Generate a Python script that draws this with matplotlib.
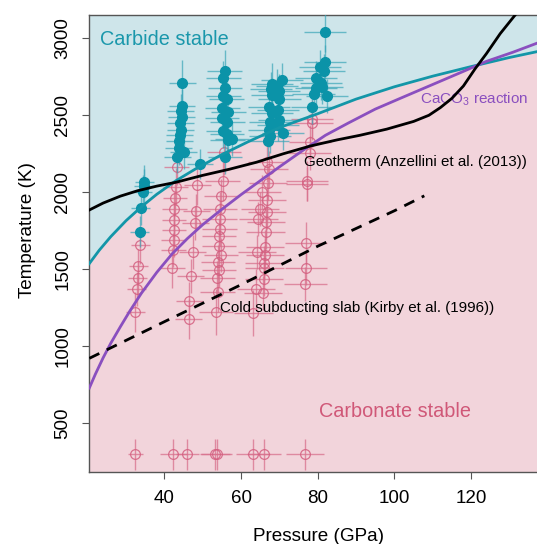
import matplotlib.pyplot as plt
import numpy as np

plt.rcParams['font.family'] = ['Liberation Sans', 'DejaVu Sans']
plt.rcParams['mathtext.default'] = 'regular'

# carbide (filled) measurements: pressure, temperature, errors
carbide_P = [34.8, 34.6, 34.3, 33.8, 33.5,
             44.7, 44.6, 44.2, 44.5, 44.1, 44.3, 44.0, 43.9, 43.7, 45.0, 43.4, 49.3,
             55.7, 55.4, 55.8, 55.4, 56.2, 55.1, 56.7, 55.0, 56.4, 55.4, 56.3, 56.5, 57.6, 55.8,
             68.0, 70.6, 69.3, 67.7, 69.8, 68.0, 70.0, 67.3, 69.6, 68.0, 70.0, 67.6, 69.6, 67.2, 71.0, 67.6, 67.0,
             81.9, 82.0, 80.6, 81.6, 79.6, 80.8, 79.6, 81.2, 78.9, 82.4, 78.5]
carbide_T = [2070, 2040, 2000, 1895, 1745,
             2708, 2560, 2525, 2490, 2450, 2405, 2370, 2330, 2290, 2262, 2232, 2184,
             2785, 2740, 2680, 2625, 2605, 2545, 2523, 2480, 2458, 2400, 2380, 2340, 2345, 2226,
             2700, 2730, 2690, 2670, 2660, 2630, 2605, 2555, 2535, 2512, 2470, 2455, 2440, 2405, 2383, 2365, 2335,
             3043, 2848, 2816, 2790, 2745, 2708, 2680, 2686, 2640, 2625, 2552]
carbide_dP = [2.5, 2.5, 2.5, 2.5, 2.5,
              3.5, 3.5, 3.5, 3.5, 3.5, 3.5, 3.5, 3.5, 3.5, 3.5, 3.5, 3.5,
              4.5, 4.5, 4.5, 4.5, 4.5, 4.5, 4.5, 4.5, 4.5, 4.5, 4.5, 4.5, 4.5, 4.5,
              5.5, 5.5, 5.5, 5.5, 5.5, 5.5, 5.5, 5.5, 5.5, 5.5, 5.5, 5.5, 5.5, 5.5, 5.5, 5.5, 5.5,
              5.5, 5.5, 5.5, 5.5, 5.5, 5.5, 5.5, 5.5, 5.5, 5.5, 5.5]
carbide_dT = [110, 110, 110, 110, 100,
              150, 110, 110, 110, 110, 110, 110, 110, 110, 110, 110, 100,
              140, 110, 110, 110, 110, 110, 110, 110, 110, 110, 110, 110, 110, 110,
              140, 110, 110, 110, 110, 110, 110, 110, 110, 110, 110, 110, 110, 110, 110, 110, 110,
              130, 110, 110, 110, 110, 110, 110, 110, 110, 110, 110]

# carbonate (open) measurements
carbonate_P = [33.7, 33.2, 33.0, 32.8, 32.4,
               43.2, 42.9, 42.7, 42.6, 42.5, 42.5, 42.4, 42.3, 42.1,
               48.6, 48.3, 48.1, 47.4, 46.9, 46.5, 46.3,
               55.6, 55.2, 54.7, 54.5, 54.4, 54.4, 54.2, 54.2, 54.8, 54.0, 54.2, 53.8, 53.9, 53.4,
               66.8, 67.2, 67.0, 65.4, 66.8, 65.0, 66.7, 64.5, 66.5, 66.4, 66.3, 64.2, 66.3, 66.0, 66.1, 65.9, 63.9, 65.8, 63.2,
               78.5, 78.5, 78.0, 77.9, 77.2, 77.3, 77.0, 77.0, 76.8,
               32.4, 42.3, 46.0, 53.2, 53.6, 63.1, 66.0, 76.7]
carbonate_T = [1655, 1520, 1443, 1373, 1225,
               2166, 2036, 1960, 1890, 1820, 1757, 1692, 1625, 1510,
               2045, 1880, 1800, 1614, 1458, 1295, 1180,
               2264, 2075, 1975, 1890, 1828, 1760, 1715, 1650, 1595, 1550, 1495, 1445, 1355, 1225,
               2195, 2150, 2058, 2004, 1950, 1893, 1870, 1828, 1805, 1742, 1647, 1614, 1593, 1539, 1506, 1435, 1370, 1346, 1214,
               2478, 2448, 2329, 2255, 2072, 2055, 1669, 1506, 1404,
               300, 300, 300, 300, 300, 300, 300, 300]
carbonate_dP = [2.5, 2.5, 2.5, 2.5, 2.5,
                3.2, 3.2, 3.2, 3.2, 3.2, 3.2, 3.2, 3.2, 3.2,
                3.5, 3.5, 3.5, 3.5, 3.5, 3.5, 3.5,
                4.5, 4.5, 4.5, 4.5, 4.5, 4.5, 4.5, 4.5, 4.5, 4.5, 4.5, 4.5, 4.5, 4.5,
                5.0, 5.0, 5.0, 5.0, 5.0, 5.0, 5.0, 5.0, 5.0, 5.0, 5.0, 5.0, 5.0, 5.0, 5.0, 5.0, 5.0, 5.0, 5.0,
                5.5, 5.5, 5.5, 5.5, 5.5, 5.5, 5.5, 5.5, 5.5,
                2.0, 3.5, 3.0, 4.0, 4.0, 4.5, 4.5, 5.0]
carbonate_dT = [120, 110, 110, 110, 130,
                120, 120, 110, 110, 110, 110, 110, 110, 130,
                130, 110, 110, 110, 110, 120, 130,
                150, 130, 110, 110, 110, 110, 110, 110, 110, 110, 110, 110, 130, 150,
                130, 120, 110, 110, 110, 110, 110, 110, 110, 110, 110, 110, 110, 110, 110, 110, 130, 110, 150,
                120, 110, 110, 110, 130, 110, 140, 110, 110,
                100, 100, 100, 100, 100, 100, 100, 100]

# boundaries
carbide_line_P = [20.4, 23, 26, 30, 34, 38, 43, 48, 55, 62, 70, 80, 90, 100, 110, 120, 130, 137.2]
carbide_line_T = [1537, 1624, 1712, 1816, 1906, 1987, 2075, 2150, 2245, 2330, 2420, 2510, 2605, 2685, 2754, 2816, 2875, 2913]

caco3_P = [20.4, 22, 24, 26, 28.5, 31, 34, 38, 42, 46, 50, 55, 60, 65, 70, 76, 82, 88, 95, 102, 110, 118, 124, 131, 137.2]
caco3_T = [729, 820, 925, 1020, 1127, 1230, 1345, 1480, 1600, 1700, 1790, 1890, 1985, 2075, 2165, 2270, 2370, 2450,
           2540, 2615, 2700, 2785, 2850, 2910, 2968]

geotherm_P = [20.4, 24, 28.5, 33, 38, 43, 50, 57, 64, 71, 78, 85, 91, 98, 105, 109, 112, 115, 118, 121, 124, 127.6, 131.5]
geotherm_T = [1885, 1930, 1975, 2010, 2040, 2065, 2110, 2150, 2195, 2250, 2300, 2340, 2370, 2410, 2460, 2500, 2550,
              2610, 2690, 2800, 2900, 3030, 3151]

slab_P = [20.4, 40, 60, 80, 100, 107.8]
slab_T = [922, 1160, 1400, 1650, 1880, 1977]

teal = '#0b93a8'
pink = '#d45f80'
purple = '#8a4fbf'

fig = plt.figure(figsize=(5.37, 5.44), dpi=100)
ax = fig.add_axes([89.3 / 537, (544 - 471.7) / 544, (537 - 89.3) / 537, (471.7 - 15) / 544])
xmin, xmax = 20.4, 137.2
ymin, ymax = 186, 3151

ax.fill_between(carbide_line_P, carbide_line_T, ymax, color='#cee5ea', lw=0, zorder=0)
ax.fill_between(carbide_line_P, ymin, carbide_line_T, color='#f2d4db', lw=0, zorder=0)

ax.errorbar(carbonate_P, carbonate_T, xerr=carbonate_dP, yerr=carbonate_dT, fmt='none',
            ecolor='#d8708c', elinewidth=1.0, alpha=0.75, zorder=2)
ax.plot(carbonate_P, carbonate_T, 'o', ms=7, mfc='none', mec=pink, mew=0.9, alpha=0.85, zorder=3)

ax.errorbar(carbide_P, carbide_T, xerr=carbide_dP, yerr=carbide_dT, fmt='none',
            ecolor='#3aa5b8', elinewidth=1.0, alpha=0.7, zorder=4)
ax.plot(carbide_P, carbide_T, 'o', ms=7, color=teal, mec=teal, zorder=5)

ax.plot(carbide_line_P, carbide_line_T, color='#1396a8', lw=2, zorder=6)
ax.plot(caco3_P, caco3_T, color=purple, lw=2, zorder=6)
ax.plot(geotherm_P, geotherm_T, color='black', lw=2, zorder=7)
ax.plot(slab_P, slab_T, color='black', lw=2, ls=(0, (4, 3)), zorder=7)

ax.text(23.2, 2956, 'Carbide stable', color='#1a97ab', fontsize=14.3, va='baseline')
ax.text(80.2, 541, 'Carbonate stable', color='#d05878', fontsize=14.3, va='baseline')
ax.text(106.6, 2573, 'CaCO$_3$ reaction', color=purple, fontsize=11, va='baseline')
ax.text(76.3, 2171, 'Geotherm (Anzellini et al. (2013))', color='black', fontsize=10.9, va='baseline')
ax.text(54.6, 1220, 'Cold subducting slab (Kirby et al. (1996))', color='black', fontsize=10.9, va='baseline')

ax.set_xlim(xmin, xmax)
ax.set_ylim(ymin, ymax)
ax.set_xticks([40, 60, 80, 100, 120])
ax.set_yticks([500, 1000, 1500, 2000, 2500, 3000])
ax.tick_params(labelsize=13.5, length=5, color='#555555', pad=8)
ax.tick_params(axis='y', labelrotation=90)
for lbl in ax.get_yticklabels():
    lbl.set_va('center')

for side in ['left', 'bottom', 'top']:
    ax.spines[side].set_color('#555555')
    ax.spines[side].set_linewidth(1)
ax.spines['right'].set_visible(False)

ax.set_xlabel('Pressure (GPa)', fontsize=13.6)
ax.set_ylabel('Temperature (K)', fontsize=13.6)
ax.xaxis.set_label_coords(0.511, -0.123)
ax.yaxis.set_label_coords(-0.119, 0.529)

fig.savefig('out.png', dpi=100)
